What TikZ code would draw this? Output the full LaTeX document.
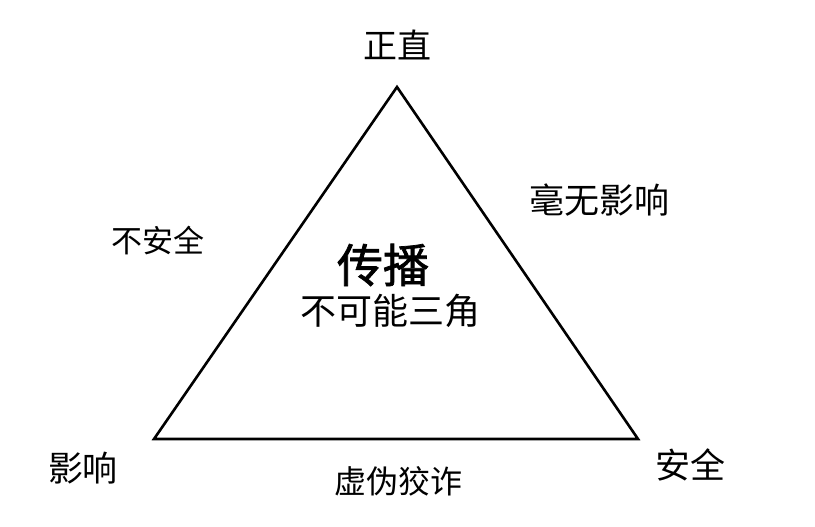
\documentclass[tikz,border=0pt]{standalone}
\usepackage{fontspec}
\usetikzlibrary{positioning}
\newfontfamily\cjk{Noto Sans CJK SC}
\newfontfamily\cjkheavy[FakeBold=1.6]{Noto Sans CJK SC}
\begin{document}
\begin{tikzpicture}[x=1pt, y=1pt, line join=miter, font=\cjk]
			\tikzset{
				corner/.style={inner sep=0pt, font=\cjk\fontsize{35}{38}\selectfont},
				side/.style={inner sep=0pt, font=\cjk\fontsize{31}{34}\selectfont},
			}
			\useasboundingbox[fill=white] (0,0) rectangle (815,527);
			% --- triangle
			\coordinate (top) at (397,440);
			\coordinate (left) at (154,88);
			\coordinate (right) at (638,88);
			\draw[line width=2.6pt] (top) -- (right) -- (left) -- cycle;
			% --- corners
			\node[corner, font=\cjk\fontsize{34}{38}\selectfont] (zhengzhi) at (397,482) {正直};
			\node[corner] (yingxiang) at (83,59) {影响};
			\node[corner] (anquan) at (690,62) {安全};
			% --- sides
			\node[side] (buanquan) at (158,286) {不安全};
			\node[side, font=\cjk\fontsize{35}{38}\selectfont] (haowu) at (599,327) {毫无影响};
			\node[side, font=\cjk\fontsize{32}{35}\selectfont] (xuwei) at (398,46) {虚伪狡诈};
			% --- centre
			\node[inner sep=0pt, font=\cjkheavy\fontsize{46}{50}\selectfont] (chuanbo) at (383,262) {传播};
			\node[inner sep=0pt, font=\cjk\fontsize{36}{40}\selectfont, below=8pt of chuanbo, xshift=7pt] (sanjiao) {不可能三角};
		\end{tikzpicture}
\end{document}
